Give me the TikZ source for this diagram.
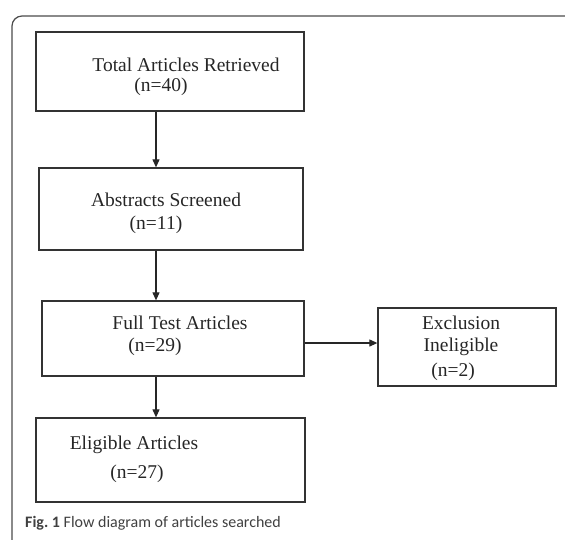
\documentclass[tikz,border=0pt]{standalone}
\usepackage{fontspec}
\setmainfont{Liberation Serif}
\newfontfamily\capfont{Carlito}
\usepackage{tikz}
\usetikzlibrary{
	arrows.meta,
	positioning,
	calc
}

\begin{document}
\begin{tikzpicture}[x=1pt, y=-1pt,
				box/.style={
					rectangle, draw=black!80, line width=1.3pt,
					inner sep=0pt
				},
				txt/.style={
					inner sep=0pt, text=black!85,
					font=\fontsize{19.5}{24}\selectfont
				},
				arrow/.style={-{Triangle[length=8pt,width=7pt]}, line width=1.1pt, black!85},
				]
				\useasboundingbox (0,0) rectangle (565,539);
				
				%panel frame
				\draw[black!70, line width=1.2pt, rounded corners=10pt] (12,545) -- (12,16) -- (570,16);
				\coordinate (spine) at (156,0);
				
				%first set
				\node[box, minimum width=268pt, minimum height=79pt] (total) at (170,71.5) {};
				\node[txt] (totaltxt) at (186,65) {Total Articles Retrieved};
				\node[txt] (totaln) at (161,87) {(n=40)};
				
				%2. set
				\node[box, minimum width=264pt, minimum height=82pt] (abstr) at (171,209) {};
				\node[txt] (abstrtxt) at (166,200) {Abstracts Screened};
				\node[txt] (abstrn) at (156,225) {(n=11)};
				\draw [arrow] (total.south -| spine) -- (abstr.north -| spine);
				
				%3. set
				\node[box, minimum width=262pt, minimum height=75pt] (fulltext) at (173,338.5) {};
				\node[txt] (fulltxt) at (180,323) {Full Test Articles};
				\node[txt] (fulln) at (155,347) {(n=29)};
				\draw [arrow] (abstr.south -| spine) -- (fulltext.north -| spine);
				
				\node[box, minimum width=178pt, minimum height=78pt] (excl) at (467,347) {};
				\node[txt] (excltxt) at (461,323) {Exclusion};
				\node[txt] (inelig) at (461,347) {Ineligible};
				\node[txt] (excln) at (453,372) {(n=2)};
				\draw [arrow] ([yshift=-4.5pt]fulltext.east) -- ([yshift=-4.5pt]fulltext.east -| excl.west);
				
				%4. set
				\node[box, minimum width=269pt, minimum height=84pt] (elig) at (170.5,460) {};
				\node[txt] (eligtxt) at (134,445) {Eligible Articles};
				\node[txt] (elign) at (137,474) {(n=27)};
				\draw [arrow] (fulltext.south -| spine) -- (elig.north -| spine);
				
				%caption
				\node[anchor=west, inner sep=0pt, text=black!75, font=\capfont\fontsize{16}{18}\selectfont] (caption) at (25,523) {\textbf{Fig.\ 1} Flow diagram of articles searched};
			\end{tikzpicture}
\end{document}
